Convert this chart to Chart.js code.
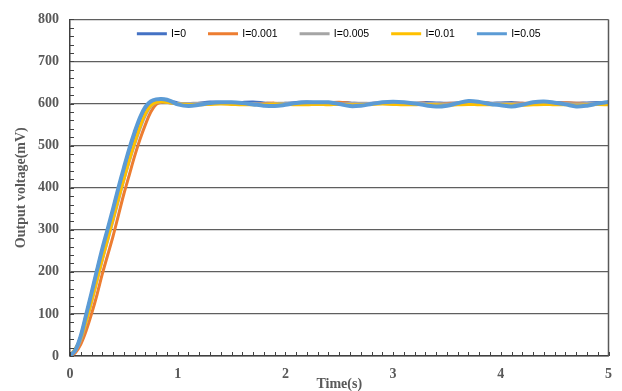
<!DOCTYPE html>
<html>
<head>
<meta charset="utf-8">
<script src="https://cdn.jsdelivr.net/npm/chart.js@4/dist/chart.umd.min.js"></script>
<style>
html,body{margin:0;padding:0;background:#fff;}
#c{display:block;}
</style>
</head>
<body>
<canvas id="c" width="622" height="391"></canvas>
<script>
// Time (s)
const timeS = [0,0.05,0.1,0.15,0.2,0.25,0.3,0.35,0.4,0.45,0.5,0.55,0.6,0.65,0.7,0.75,0.8,0.85,0.9,0.95,1.0,
  1.1,1.2,1.3,1.4,1.5,1.6,1.7,1.8,1.9,2.0,
  2.1,2.2,2.3,2.4,2.5,2.6,2.7,2.8,2.9,3.0,
  3.1,3.2,3.3,3.4,3.5,3.6,3.7,3.8,3.9,4.0,
  4.1,4.2,4.3,4.4,4.5,4.6,4.7,4.8,4.9,5.0];

const seriesNames = ['I=0','I=0.001','I=0.005','I=0.01','I=0.05'];

// Output voltage (mV)
const vI0 = [0,15,45,95,145,200,250,295,345,395,440,485,525,560,588,602,607,608,607,604,601,
  597,600,603,602,600,602,603,601,599,600,
  602,603,601,600,602,601,599,600,601,602,
  601,600,602,601,600,601,603,602,600,601,
  602,600,599,601,602,601,600,601,602,601];
const vI0001 = [0,8,28,60,100,145,195,240,285,335,385,430,475,515,550,580,598,603,603,601,600,
  599,598,599,601,600,598,599,600,601,599,
  598,600,601,602,603,601,599,600,601,600,
  599,600,601,599,600,601,600,602,601,599,
  600,601,600,599,600,602,601,600,599,600];
const vI0005 = [0,12,38,80,128,178,228,275,322,370,418,462,503,540,572,593,602,604,603,601,600,
  600,601,600,600,601,600,600,599,600,601,
  600,600,601,600,599,600,601,600,600,599,
  600,601,600,600,599,600,601,600,600,601,
  600,599,600,601,600,600,599,600,601,600];
const vI001 = [0,18,42,82,130,180,230,278,326,374,420,465,507,545,576,595,603,604,603,601,599,
  598,597,598,599,598,597,597,598,599,598,
  597,597,598,597,598,597,597,598,599,598,
  597,597,598,597,596,597,598,597,597,598,
  597,596,597,598,597,597,596,597,598,597];
const vI005 = [0,14,48,98,150,203,255,302,350,400,447,492,532,567,592,605,610,611,609,604,598,
  594,597,601,603,603,601,598,595,594,597,
  601,603,603,603,599,594,595,599,603,604,
  603,600,596,593,595,601,606,604,599,596,
  593,597,603,605,602,598,593,595,600,604];

const yTicks = [0,100,200,300,400,500,600,700,800];
const xTicks = [0,1,2,3,4,5];

const colors = ['#4472C4','#ED7D31','#A5A5A5','#FFC000','#5B9BD5'];
const widths = [3.5,3,3,3,4];
const allValues = [vI0, vI0001, vI0005, vI001, vI005];

const datasets = allValues.map((vals, i) => ({
  label: seriesNames[i],
  data: timeS.map((t, k) => ({x: t, y: vals[k]})),
  borderColor: colors[i],
  backgroundColor: colors[i],
  borderWidth: widths[i],
  pointRadius: 0,
  tension: 0.35,
  fill: false,
  order: allValues.length - 1 - i
}));

const GRAY = '#595959';
const serifBold = {family: '"Liberation Serif", "Times New Roman", serif', weight: 'bold', size: 14};

const decor = {
  id: 'decor',
  beforeLayout(chart) {
    const lg = chart.legend;
    if (lg && !lg._patched) {
      const f = lg.fit.bind(lg);
      lg.fit = function () { f(); this.height = 0; };
      lg._patched = true;
    }
  },
  afterUpdate(chart) {
    const lg = chart.legend;
    const ca = chart.chartArea;
    if (lg) {
      lg.left = ca.left;
      lg.right = ca.right;
      lg.top = ca.top - 14;
      lg.bottom = lg.top + 50;
      lg.width = lg.right - lg.left;
      lg.height = 50;
    }
  },
  afterDraw(chart) {
    const ctx = chart.ctx;
    const ca = chart.chartArea;
    const xs = chart.scales.x, ys = chart.scales.y;
    ctx.save();
    ctx.strokeStyle = '#404040';
    ctx.lineWidth = 1;
    ctx.beginPath();
    for (let v = 0; v <= 800; v += 20) {
      const py = Math.round(ys.getPixelForValue(v)) + 0.5;
      ctx.moveTo(ca.left, py); ctx.lineTo(ca.left + 4, py);
    }
    for (let k = 0; k <= 50; k++) {
      const px = Math.round(xs.getPixelForValue(k / 10)) + 0.5;
      ctx.moveTo(px, ca.bottom); ctx.lineTo(px, ca.bottom - 4);
    }
    ctx.stroke();
    ctx.strokeStyle = GRAY;
    ctx.lineWidth = 1.5;
    ctx.beginPath();
    ctx.moveTo(ca.right, ca.top); ctx.lineTo(ca.right, ca.bottom);
    ctx.stroke();
    ctx.restore();
  }
};

new Chart(document.getElementById('c'), {
  type: 'line',
  data: {datasets},
  plugins: [decor],
  options: {
    responsive: false,
    animation: false,
    layout: {padding: {top: 14, right: 11, left: 0, bottom: 0}},
    plugins: {
      legend: {
        position: 'top',
        labels: {
          boxWidth: 28,
          boxHeight: 1,
          padding: 23,
          color: GRAY,
          font: {family: '"Liberation Sans", Arial, sans-serif', size: 10.5},
          generateLabels(chart) {
            return chart.data.datasets.map((d, i) => ({
              text: d.label,
              fillStyle: d.borderColor,
              strokeStyle: d.borderColor,
              lineWidth: 2,
              hidden: false,
              datasetIndex: i
            }));
          }
        }
      },
      tooltip: {enabled: false}
    },
    scales: {
      x: {
        type: 'linear',
        min: 0, max: 5,
        afterBuildTicks(s) { s.ticks = xTicks.map(v => ({value: v})); },
        afterFit(s) { s.height = 35; },
        ticks: {color: GRAY, font: serifBold, padding: 10, maxRotation: 0},
        grid: {drawOnChartArea: false, drawTicks: false},
        border: {display: true, color: '#404040', width: 1.5},
        title: {display: true, text: 'Time(s)', color: GRAY, font: serifBold, padding: {top: 0, bottom: -2}}
      },
      y: {
        min: 0, max: 800,
        afterBuildTicks(s) { s.ticks = yTicks.map(v => ({value: v})); },
        afterFit(s) { s.width = 70; },
        ticks: {color: GRAY, font: serifBold, padding: 11},
        grid: {color: '#5f5f5f', lineWidth: 1.2, drawTicks: false},
        border: {display: true, color: '#404040', width: 1.5},
        title: {display: true, text: 'Output voltage(mV)', color: GRAY, font: serifBold, padding: {top: 13, bottom: 0}}
      }
    }
  }
});
</script>
</body>
</html>
